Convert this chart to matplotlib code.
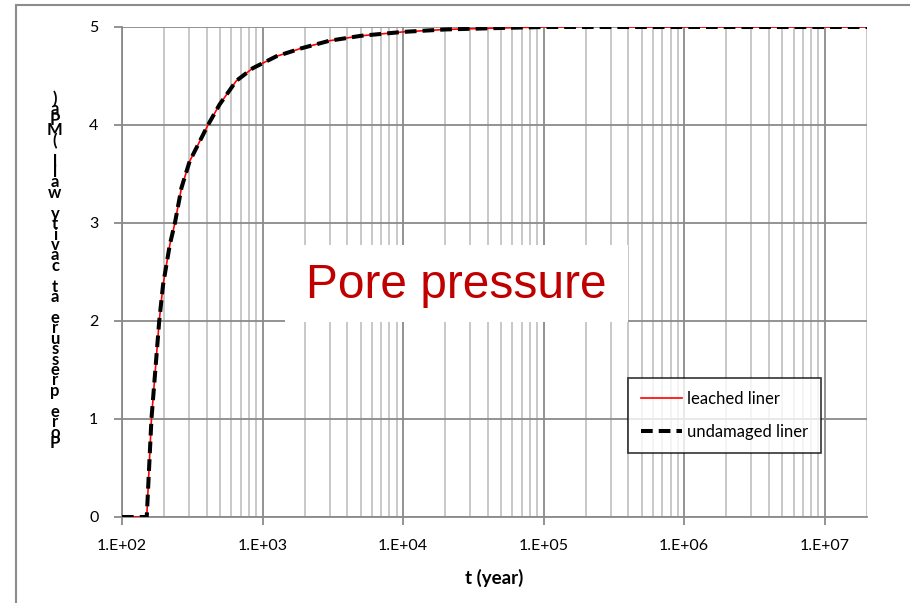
import matplotlib
matplotlib.use("Agg")
import matplotlib.pyplot as plt
from matplotlib.ticker import FixedLocator, FuncFormatter, NullFormatter, LogLocator
from matplotlib.patches import Rectangle
import numpy as np

# ---- data ----
t_undamaged = [100, 150, 162, 174, 184, 196, 219, 238, 265, 303, 409, 495, 650, 853,
               1000, 1250, 1860, 3000, 5000, 1e4, 2e4, 5e4, 1e5, 1e6, 2e7]
p_undamaged = [0, 0, 1.0, 1.56, 2.0, 2.37, 2.78, 3.0, 3.36, 3.63, 4.0, 4.21, 4.45, 4.58,
               4.63, 4.70, 4.78, 4.86, 4.91, 4.95, 4.975, 4.99, 5.0, 5.0, 5.0]

t_leached = [100, 150, 162, 174, 184, 196, 219, 238, 265, 303, 409, 495, 650, 853,
             1000, 1250, 1860, 3000, 5000, 1e4, 2e4, 5e4, 1e5, 1.6e5, 2.5e5, 4e5, 1e6, 2e7]
p_leached = [0, 0, 1.0, 1.56, 2.0, 2.37, 2.78, 3.0, 3.36, 3.63, 4.0, 4.21, 4.45, 4.58,
             4.63, 4.70, 4.78, 4.86, 4.91, 4.95, 4.975, 4.99, 5.0, 5.0, 5.02, 5.0, 5.0, 5.0]

y_ticks = [0, 1, 2, 3, 4, 5]
x_decades = [1e2, 1e3, 1e4, 1e5, 1e6, 1e7]
ylabel_text = "Pore pressure at cavity wall (MPa)"
xlabel_text = "t (year)"
title_text = "Pore pressure"

W, H = 910, 603
fig = plt.figure(figsize=(W / 100, H / 100), dpi=100)

# outer chart border (runs off the right and bottom edges)
fig.patches.append(Rectangle((16 / W, -0.1), 2, 1 - 5 / H + 0.1, transform=fig.transFigure,
                             fill=False, edgecolor="#8c8c8c", lw=1.5))

ax = fig.add_axes([122 / W, 1 - 517 / H, (867 - 122) / W, (517 - 27) / H])
ax.set_xscale("log")
ax.set_xlim(1e2, 2e7)
ax.set_ylim(0, 5)

ax.plot(t_leached, p_leached, color="#ff0000", lw=1.2, label="leached liner", zorder=3)
ax.plot(t_undamaged, p_undamaged, color="black", lw=2.9, dashes=(2.9, 1.5),
        label="undamaged liner", zorder=4)

# grid
ax.xaxis.set_major_locator(FixedLocator(x_decades))
ax.xaxis.set_minor_locator(LogLocator(base=10, subs=np.arange(2, 10)))
ax.xaxis.set_major_formatter(FuncFormatter(lambda v, p: "1.E+%02d" % round(np.log10(v))))
ax.xaxis.set_minor_formatter(NullFormatter())
ax.set_yticks(y_ticks)
ax.grid(True, which="major", axis="both", color="#8a8a8a", lw=1.3)
ax.grid(True, which="minor", axis="x", color="#c4c4c4", lw=1.3)
ax.set_axisbelow(True)

for s in ["top", "right"]:
    ax.spines[s].set_visible(False)
for s in ["left", "bottom"]:
    ax.spines[s].set_color("#8a8a8a")
    ax.spines[s].set_linewidth(1.3)
ax.tick_params(axis="both", which="major", direction="out", length=6, width=1.3,
               color="#8a8a8a", labelsize=11.5)
ax.tick_params(axis="x", which="minor", length=0)
for lab in ax.get_xticklabels() + ax.get_yticklabels():
    lab.set_fontfamily("Lato")
ax.tick_params(axis="x", pad=10)
ax.tick_params(axis="y", pad=11)

ax.set_xlabel(xlabel_text, fontfamily="Lato", fontweight="bold", fontsize=13.5, labelpad=11)

# y label: upright characters stacked from bottom to top
n = len(ylabel_text)
y_bot, y_top = 443, 99
for i, ch in enumerate(ylabel_text):
    ypx = y_bot - i * (y_bot - y_top) / (n - 1)
    fig.text(55 / W, 1 - ypx / H, ch, ha="center", va="center", fontsize=12,
             fontfamily="Lato", fontweight="bold")

# big label with white box
ax.add_patch(Rectangle(((285 - 122) / 745, (517 - 322) / 490), (628 - 285) / 745, (322 - 245) / 490,
                       transform=ax.transAxes, facecolor="white", edgecolor="none", zorder=2.5))
ax.text((456 - 122) / 745, (517 - 285) / 490, title_text, transform=ax.transAxes,
        ha="center", va="center", fontsize=34.5, color="#c00000",
        fontfamily="Liberation Sans", zorder=5)

leg = ax.legend(loc="upper left", bbox_to_anchor=((628 - 122) / 745, (517 - 378) / 490),
                borderaxespad=0, frameon=True, fancybox=False, borderpad=0.75,
                labelspacing=1.05, handlelength=2.5, handletextpad=0.3,
                prop={"family": "Lato", "size": 12})
leg.get_frame().set_edgecolor("black")
leg.get_frame().set_linewidth(1.2)
leg.set_zorder(6)

fig.savefig("out.png", dpi=100)
